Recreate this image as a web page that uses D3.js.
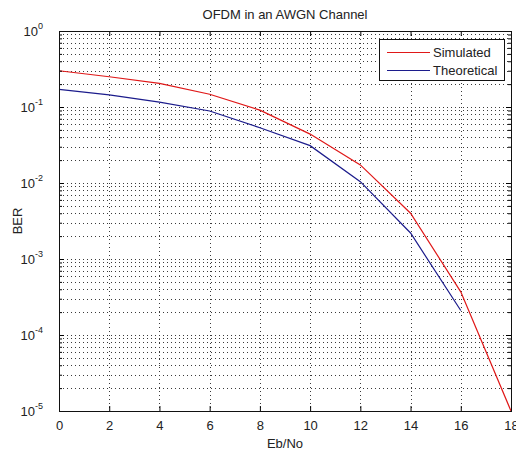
<!DOCTYPE html>
<html>
<head>
<meta charset="utf-8">
<script src="https://cdn.jsdelivr.net/npm/d3@7"></script>
<style>
    body { margin: 0; background: #fff; }
    svg text { font-family: "Liberation Sans", Arial, sans-serif; fill: #222; }
</style>
</head>
<body>
<svg class="chart" width="516" height="455"></svg>
<script>
// values (Eb/No in dB, BER)
let ebno_sim = [0, 2, 4, 6, 8, 10, 12, 14, 16, 18]
let ber_sim = [0.30, 0.25, 0.205, 0.147, 0.091, 0.044, 0.0173, 0.0040, 0.00037, 0.00001]

let ebno_theory = [0, 2, 4, 6, 8, 10, 12, 14, 16]
let ber_theory = [0.171, 0.144, 0.116, 0.0886, 0.0534, 0.031, 0.0104, 0.0022, 0.00021]

let x_ticks = [0, 2, 4, 6, 8, 10, 12, 14, 16, 18]
let y_exponents = [0, -1, -2, -3, -4, -5]

let series_names = ["Simulated", "Theoretical"]
let series_colors = ["#e01818", "#1c1c8c"]

let margin = {left: 59, right: 511, top: 31, bottom: 411}

let svg = d3.select(".chart")

let x = d3.scaleLinear()
    .domain([0, 18])
    .range([margin.left, margin.right])

let y = d3.scaleLog()
    .domain([1e-5, 1])
    .range([margin.bottom, margin.top])

let y_major = y_exponents.map(e => Math.pow(10, e))
let y_minor = []
y_exponents.slice(1).forEach(e => {
    for (let k = 2; k <= 9; k++) y_minor.push(k * Math.pow(10, e))
})

function draw_grid() {
    let grid = svg.append("g").attr("class", "grid")
        .attr("stroke", "#3a3a3a")
        .attr("stroke-width", 1)
        .attr("stroke-dasharray", "1,3")

    grid.selectAll("line.vx")
        .data(x_ticks.slice(1, -1))
        .enter().append("line")
        .classed("vx", true)
        .attr("x1", d => Math.round(x(d)) + 0.5)
        .attr("x2", d => Math.round(x(d)) + 0.5)
        .attr("y1", margin.top)
        .attr("y2", margin.bottom)

    grid.selectAll("line.hy")
        .data(y_major.slice(1, -1).concat(y_minor))
        .enter().append("line")
        .classed("hy", true)
        .attr("x1", margin.left)
        .attr("x2", margin.right)
        .attr("y1", d => Math.round(y(d)) + 0.5)
        .attr("y2", d => Math.round(y(d)) + 0.5)
}

function draw_lines() {
    let line = d3.line()
        .x(d => x(d[0]))
        .y(d => y(d[1]))

    let sets = [
        d3.zip(ebno_sim, ber_sim),
        d3.zip(ebno_theory, ber_theory)
    ]

    svg.selectAll("path.curve")
        .data(sets)
        .enter().append("path")
        .classed("curve", true)
        .attr("d", line)
        .attr("fill", "none")
        .attr("stroke", (d, i) => series_colors[i])
        .attr("stroke-width", 1.2)
}

function draw_axes() {
    let font = "Liberation Sans, Arial, sans-serif"

    // bottom, with labels
    let bottom = svg.append("g")
        .attr("transform", `translate(0,${margin.bottom})`)
        .call(d3.axisBottom(x).tickValues(x_ticks).tickSize(-5).tickPadding(10).tickFormat(d3.format("d")))
    bottom.select(".domain").remove()
    bottom.selectAll("text").attr("font-size", 13).attr("font-family", font).attr("fill", "#222")

    // top, ticks only
    let top = svg.append("g")
        .attr("transform", `translate(0,${margin.top})`)
        .call(d3.axisTop(x).tickValues(x_ticks).tickSize(-5).tickFormat(""))
    top.select(".domain").remove()

    // left major + minor
    let left = svg.append("g")
        .attr("transform", `translate(${margin.left},0)`)
        .call(d3.axisLeft(y).tickValues(y_major).tickSize(-5).tickFormat(""))
    left.select(".domain").remove()
    let left_minor = svg.append("g")
        .attr("transform", `translate(${margin.left},0)`)
        .call(d3.axisLeft(y).tickValues(y_minor).tickSize(-3).tickFormat(""))
    left_minor.select(".domain").remove()

    // right major + minor
    let right = svg.append("g")
        .attr("transform", `translate(${margin.right},0)`)
        .call(d3.axisRight(y).tickValues(y_major).tickSize(-5).tickFormat(""))
    right.select(".domain").remove()
    let right_minor = svg.append("g")
        .attr("transform", `translate(${margin.right},0)`)
        .call(d3.axisRight(y).tickValues(y_minor).tickSize(-3).tickFormat(""))
    right_minor.select(".domain").remove()

    // y labels as 10^e
    let labels = svg.append("g")
        .selectAll("text")
        .data(y_exponents)
        .enter().append("text")
        .attr("x", margin.left - 16)
        .attr("y", d => y(Math.pow(10, d)) + 5)
        .attr("text-anchor", "end")
        .attr("font-size", 13)
    labels.append("tspan").text("10")
    labels.append("tspan")
        .attr("font-size", 9)
        .attr("dy", -7)
        .text(d => d === 0 ? "0" : "-" + Math.abs(d))

    // box
    svg.append("rect")
        .attr("x", margin.left + 0.5)
        .attr("y", margin.top + 0.5)
        .attr("width", margin.right - margin.left)
        .attr("height", margin.bottom - margin.top)
        .attr("fill", "none")
        .attr("stroke", "#111")
        .attr("stroke-width", 1)

    // title and axis labels
    svg.append("text")
        .attr("x", (margin.left + margin.right) / 2)
        .attr("y", 19)
        .attr("text-anchor", "middle")
        .attr("font-size", 13)
        .text("OFDM in an AWGN Channel")

    svg.append("text")
        .attr("x", (margin.left + margin.right) / 2)
        .attr("y", 448)
        .attr("text-anchor", "middle")
        .attr("font-size", 13)
        .text("Eb/No")

    svg.append("text")
        .attr("transform", `translate(22,${(margin.top + margin.bottom) / 2}) rotate(-90)`)
        .attr("text-anchor", "middle")
        .attr("font-size", 13)
        .text("BER")
}

function draw_legend() {
    let lg = svg.append("g").attr("transform", "translate(379,39)")
    lg.append("rect")
        .attr("x", 0.5).attr("y", 0.5)
        .attr("width", 125).attr("height", 41)
        .attr("fill", "#fff")
        .attr("stroke", "#111")

    let items = lg.selectAll("g.item")
        .data(series_names)
        .enter().append("g")
        .classed("item", true)
        .attr("transform", (d, i) => `translate(0,${13 + i * 18})`)
    items.append("line")
        .attr("x1", 8).attr("x2", 51)
        .attr("y1", 0.5).attr("y2", 0.5)
        .attr("stroke", (d, i) => series_colors[i])
        .attr("stroke-width", 1.2)
    items.append("text")
        .attr("x", 54)
        .attr("y", 5)
        .attr("font-size", 13)
        .text(d => d)
}

function init() {
    draw_grid()
    draw_lines()
    draw_axes()
    draw_legend()
}

init()
</script>
</body>
</html>
